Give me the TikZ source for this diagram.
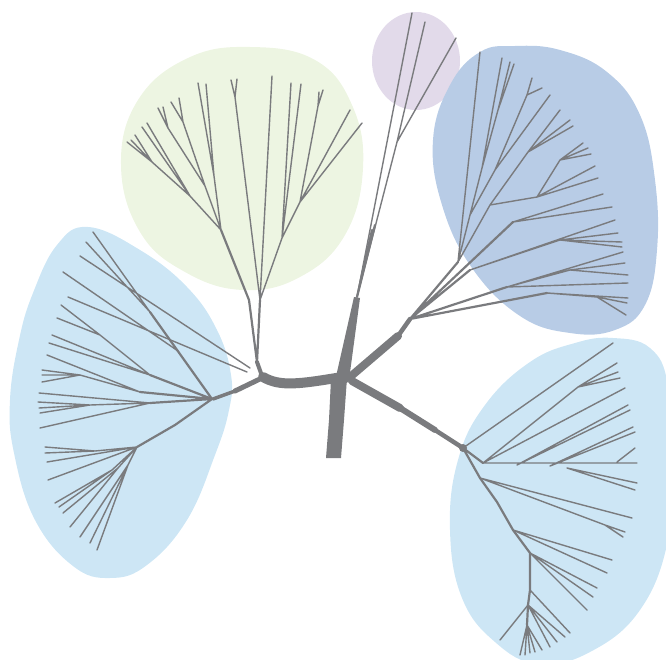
\documentclass[tikz,border=0pt]{standalone}
\definecolor{br}{HTML}{7A7B7E}
\definecolor{lb}{HTML}{CDE6F5}
\definecolor{lg}{HTML}{EDF5E2}
\definecolor{lp}{HTML}{E2DAEA}
\definecolor{db}{HTML}{B8CCE6}
\begin{document}
\begin{tikzpicture}[x=1pt,y=-1pt,
  tw/.style={draw=br,line width=1.4pt,line cap=round,line join=round},
  tm/.style={draw=br,line width=2.2pt,line cap=round,line join=round},
  tk/.style={draw=br,line cap=round,line join=round}]
\useasboundingbox (0,0) rectangle (666,660);
% ---------- background blobs ----------
\fill[lb] plot[smooth cycle,tension=0.7] coordinates {(88,227) (140,250) (187,287) (217,330) (231,375) (229,410) (215,455) (187,520) (147,565) (110,578) (73,566) (35,520) (14,453) (10,400) (19,340) (33,293) (57,245)};
\fill[lg] plot[smooth cycle,tension=0.7] coordinates {(250,47) (315,60) (352,105) (363,168) (345,235) (300,277) (243,290) (185,272) (140,232) (121,165) (138,100) (188,58)};
\fill[lp] (416,61) ellipse [x radius=44, y radius=49];
\fill[db] plot[smooth cycle,tension=0.7] coordinates {(480,52) (515,46) (560,50) (607,72) (640,115) (655,180) (657,250) (645,305) (615,330) (570,333) (520,316) (472,268) (442,205) (433,140) (450,85)};
\fill[lb] plot[smooth cycle,tension=0.7] coordinates {(613,338) (650,348) (668,385) (672,460) (668,540) (640,610) (590,652) (538,664) (495,642) (462,598) (450,530) (458,460) (485,405) (530,362) (575,343)};
% ---------- thick central parts ----------
\fill[br] (326,458) -- (341,458) -- (344,420) -- (347,378) -- (331,379) -- (329,420) -- cycle;
\fill[br] (335,381) -- (349,380) -- (360,298) -- (354,297) -- cycle;
\fill[br] (343,377) circle [radius=7];
\draw[tk,line width=10pt] (263,377) .. controls (280,387) and (300,384) .. (342,377);
\draw[tk,line width=5pt] (262,378) -- (235,391);
\draw[tk,line width=3.5pt] (235,391) -- (213,399);
\draw[tk,line width=4pt] (262,376) -- (257,362);
\draw[tk,line width=8pt] (350,377) -- (398,336);
\draw[tk,line width=4.5pt] (398,336) -- (410,319);
\draw[tk,line width=8pt] (352,381) -- (400,408);
\draw[tk,line width=6pt] (400,408) -- (435,430);
\draw[tk,line width=4.5pt] (435,430) -- (463,448);
% ---------- left clade ----------
\coordinate (RL) at (212,399);
\coordinate (LA) at (150,312);
\coordinate (LB) at (178,351);
\coordinate (LC) at (150,375);
\coordinate (LC1) at (100,335);
\coordinate (LD) at (140,392);
\coordinate (LD1) at (80,375);
\coordinate (LE) at (150,403);
\coordinate (LE1) at (90,405);
\coordinate (LF0) at (175,425);
\coordinate (LF) at (137,447);
\coordinate (LF1) at (95,451);
\coordinate (LF2) at (112,470);
\coordinate (LF3) at (118,468);
\coordinate (LF4) at (128,465);
\draw[tm] (RL) -- (LA) (RL) -- (LC) (RL) -- (LD) (RL) -- (LE) (RL) -- (LF0) -- (LF);
\draw[tw] (LA) -- (93,232) (LA) -- (86,242) (LB) -- (63,272)
  (250,368) -- (80,256) (247,372) -- (68,297)
  (LC) -- (LC1) -- (61,305) (LC1) -- (57,318) (LC) -- (52,335) (LC) -- (49,343)
  (LD) -- (47,355) (LD) -- (LD1) -- (42,370) (LD1) -- (42,375) (LD1) -- (42,382)
  (LE) -- (39,393) (LE) -- (LE1) -- (38,402) (LE1) -- (39,408) (LE1) -- (40,413) (LE) -- (40,428)
  (LF) -- (LF1) -- (45,447) (LF1) -- (45,453) (LF) -- (47,462) (LF) -- (48,480)
  (LF) -- (LF2) -- (55,503) (LF2) -- (59,507) (LF) -- (LF3) -- (63,513) (LF3) -- (70,527)
  (LF) -- (LF4) -- (80,537) (LF4) -- (90,543) (LF4) -- (97,550);
% ---------- green clade ----------
\coordinate (G0) at (257,362);
\coordinate (GL) at (249,300);
\coordinate (GR) at (260,300);
\coordinate (ga) at (221,230);
\coordinate (gb) at (190,196);
\coordinate (gd) at (152,162);
\coordinate (gc) at (205,186);
\coordinate (ge) at (168,128);
\coordinate (gf) at (183,122);
\coordinate (gg) at (214,176);
\coordinate (gh) at (235,97);
\coordinate (gr1) at (282,238);
\coordinate (gr2) at (300,202);
\coordinate (gr3) at (318,106);
\draw[tm] (G0) -- (GL) (G0) -- (GR) (GL) -- (ga);
\draw[tw] (ga) -- (gb) -- (142,127) (gb) -- (147,123) (gb) -- (gd) -- (127,142) (gd) -- (131,140) (gd) -- (135,135)
  (ga) -- (gc) -- (ge) -- (158,108) (ge) -- (163,107) (gc) -- (gf) -- (171,102) (gf) -- (179,98)
  (ga) -- (gg) -- (198,83) (gg) -- (206,84)
  (GR) -- (gh) -- (231,80) (gh) -- (237,79) (GR) -- (272,76)
  (GR) -- (gr1) -- (291,83) (gr1) -- (301,84) (gr1) -- (gr2) -- (gr3) -- (319,92) (gr3) -- (323,90)
  (gr2) -- (350,110) (gr2) -- (362,123);
% ---------- purple clade ----------
\coordinate (PS) at (357,297);
\coordinate (P1) at (397,142);
\draw[tm] (PS) -- (375,225) (PS) -- (372,230);
\draw[tw] (PS) -- (412,13) (PS) -- (P1) -- (425,22) (P1) -- (456,38);
% ---------- dark blue clade ----------
\coordinate (DB0) at (410,319);
\coordinate (Da) at (458,262);
\coordinate (Db) at (470,215);
\coordinate (Dc) at (482,168);
\coordinate (Dd) at (498,110);
\coordinate (De) at (495,170);
\coordinate (Df) at (527,95);
\coordinate (Dg) at (490,205);
\coordinate (Dh) at (528,152);
\coordinate (Di) at (537,197);
\coordinate (Dj) at (560,160);
\coordinate (Dm) at (513,222);
\coordinate (Dn) at (470,270);
\coordinate (Do) at (560,240);
\coordinate (Dp) at (507,287);
\coordinate (Dq) at (570,270);
\coordinate (Dr) at (547,293);
\coordinate (Ds) at (597,297);
\draw[tm] (DB0) -- (Da) (DB0) -- (Dp) (DB0) -- (Dn) (DB0) -- (Dm) (DB0) -- (Dr);
\draw[tw] (Da) -- (480,52)
  (Da) -- (Db) -- (Dc) -- (502,58) (Dc) -- (Dd) -- (510,62) (Dd) -- (514,64)
  (Db) -- (De) -- (Df) -- (532,78) (Df) -- (542,88) (De) -- (550,95)
  (Da) -- (Dg) -- (Dh) -- (560,110) (Dh) -- (570,120) (Dh) -- (573,126)
  (Dg) -- (Di) -- (Dj) -- (583,143) (Dj) -- (588,148) (Dj) -- (591,154) (Di) -- (595,166) (Di) -- (598,178)
  (Dm) -- (603,194) (Dm) -- (612,207)
  (Dn) -- (615,220) (Dn) -- (Do) -- (618,233) (Do) -- (622,242) (Do) -- (622,247)
  (Dp) -- (623,252) (Dp) -- (Dq) -- (625,263) (Dq) -- (628,275) (Dp) -- (628,283)
  (Dr) -- (628,298) (Dr) -- (Ds) -- (627,303) (Ds) -- (626,315);
% ---------- lower right clade ----------
\coordinate (BR0) at (463,448);
\coordinate (b2) at (483,463);
\coordinate (bA) at (578,387);
\coordinate (h1) at (517,465);
\coordinate (h2) at (550,466);
\coordinate (h3) at (617,462);
\coordinate (h4) at (567,468);
\coordinate (m1) at (480,478);
\coordinate (m2) at (497,502);
\coordinate (m3) at (513,530);
\coordinate (m4) at (530,553);
\coordinate (m5) at (530,590);
\coordinate (m6) at (528,605);
\coordinate (m7) at (527,625);
\coordinate (x1) at (605,525);
\fill[br] (BR0) circle [radius=4];
\draw[tm] (BR0) -- (b2) (BR0) -- (m1) -- (m2) -- (m3) -- (m4) -- (m5) -- (m6) -- (m7);
\draw[tw] (BR0) -- (613,343)
  (b2) -- (bA) -- (617,363) (bA) -- (618,372) (bA) -- (620,378) (b2) -- (625,388)
  (b2) -- (637,463) (h1) -- (628,405) (h1) -- (630,410) (h2) -- (633,427) (h2) -- (635,432) (h3) -- (635,448)
  (h4) -- (637,483) (h4) -- (635,490)
  (m1) -- (632,518) (m1) -- (x1) -- (625,532) (x1) -- (623,537)
  (m3) -- (612,560) (m3) -- (607,573)
  (m4) -- (597,588) (m4) -- (593,597) (m4) -- (587,610)
  (m5) -- (570,633) (m6) -- (565,637) (m6) -- (557,642) (m6) -- (550,647) (m6) -- (500,640)
  (m7) -- (542,650) (m7) -- (535,652) (m7) -- (530,653) (m7) -- (525,655) (m7) -- (520,655);
\end{tikzpicture}
\end{document}
